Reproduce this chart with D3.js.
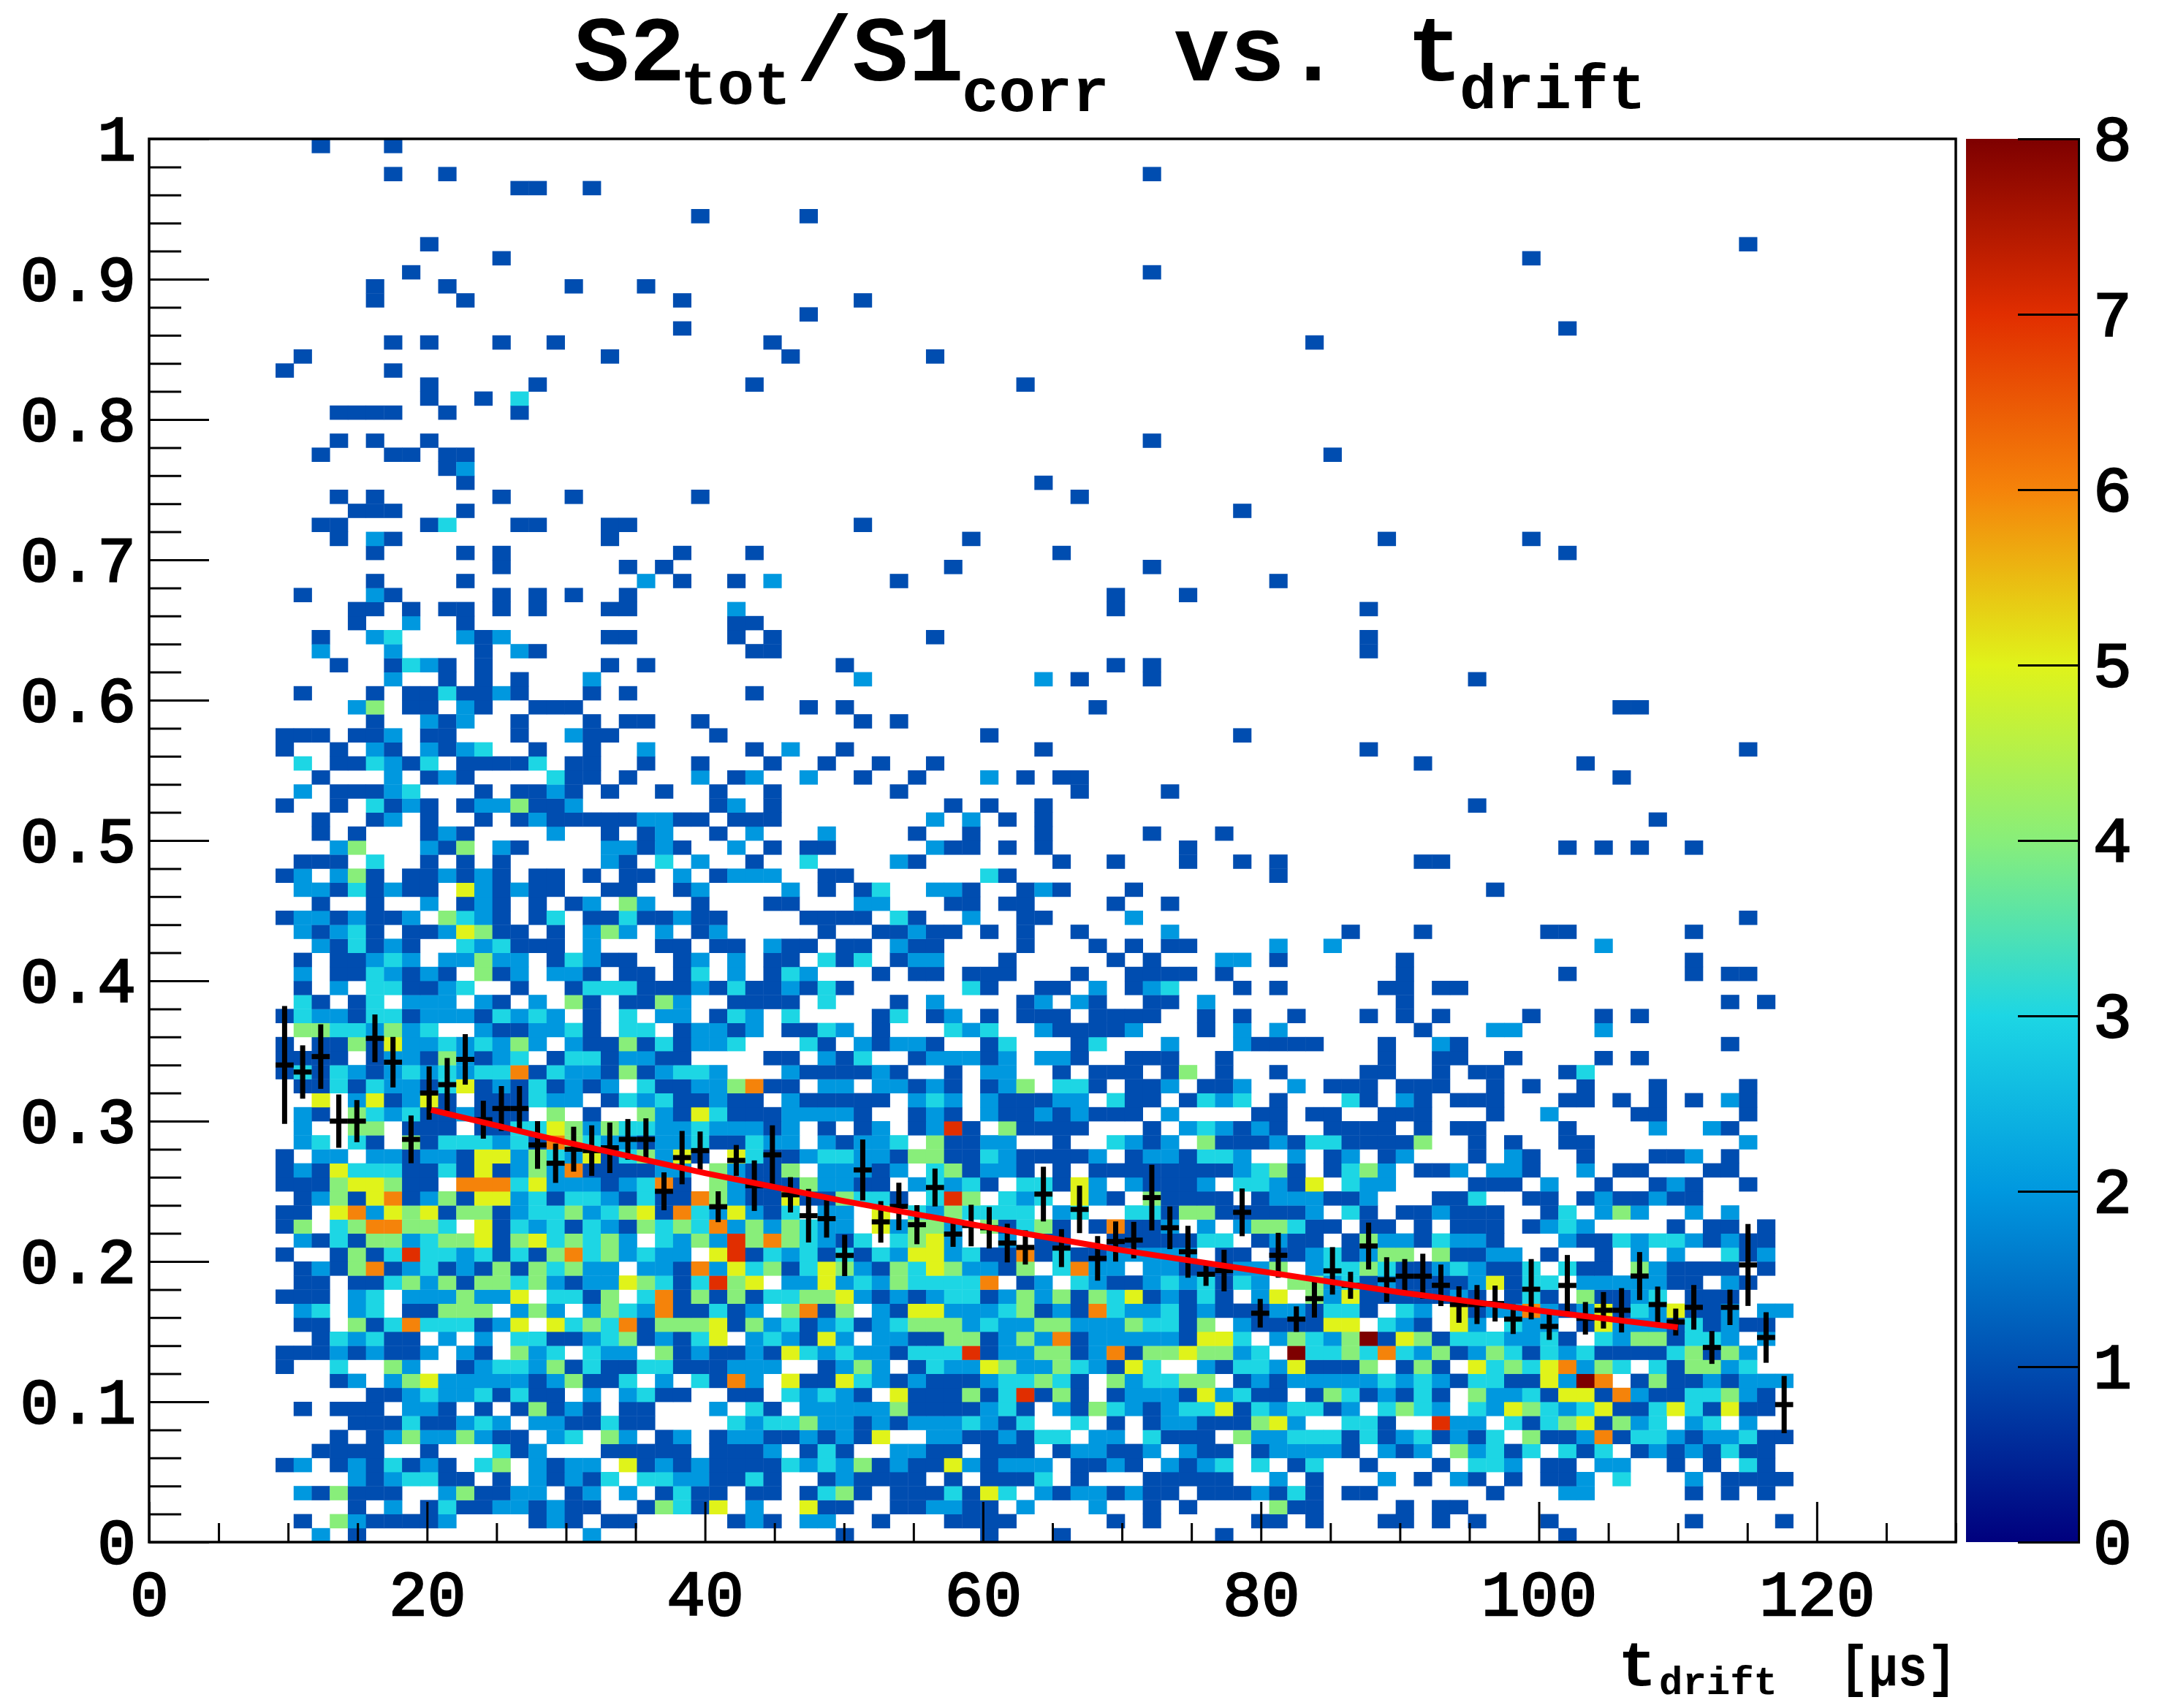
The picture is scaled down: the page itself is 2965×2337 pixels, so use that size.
<!DOCTYPE html>
<html>
<head>
<meta charset="utf-8">
<script src="https://cdnjs.cloudflare.com/ajax/libs/d3/7.8.5/d3.min.js"></script>
<style>
  html, body { margin: 0; background: #fff; }
  text { font-family: "Liberation Mono", monospace; font-weight: bold; fill: #000; }
</style>
</head>
<body>
<svg width="2965" height="2337"></svg>
<script>
// counts per bin. index in list = y bin, "." = empty bin
// blocks start at x bins 7, 35 and 62, spaces are only there for reading
var leftStart = 7, midStart = 35, rightStart = 62;

var leftRows = [
"..2.1............2",
".1.4211112....121.11.....121",
"....1.2.1311221211..14315.2",
".214111..241122.12.2.1311.11",
"....2123311.1.21213.33221131",
"12.1213121.34.2122.512121111",
"..1111..1...312...11111.1112",
"...1.124224211.23.42.12.1221",
"....111311232.2211311....323",
".1.111.221.1.14121.11...2.31",
".....11232231311.2.2311..11",
"...12.24522222124113.2.3162",
"1..3..42..123324131133111222",
"111212112.21.423.322.4121121",
"..132311.2.2.331123412135.23",
".11.4136333125.5343614445142",
".23.23.11444.242.2432611312",
"111.23.2224225.3314.36141413",
".11.11342414434212254313745",
".121461231214143422.22162534",
"1..14137332313146342322.5713",
".2131442344514534342.3242746",
"14.3466443.51323132143436242",
"11.5625451441233423451632521",
".124156124155231332131164211",
"111455411.6663522212361.4211",
"12153331131512426111122.4211",
"1.22.22122 1552432513 4251.531",
".23.31.413 3323164322 12231132",
".2..44.111 .113354243 32232221",
".21.432311 2111.4.1.. 42153111",
"..5.251251 .111322.13 2311211",
".113132213 512131212. 31122461",
"1313212323 2336132214 12332",
"1111.12214 2123.13312 211....1",
"1.11415223 23242.2114 131223",
".44332423. .2112231.3 3.12212",
"1322133122 213232.1.3 .22.132",
".31.13.222 .21.2.41.1 142..111",
".1.2.33112 3..1..1333 11121311",
".2.1132121 .412.221.1 1.13.2.1",
".1.11232.2 2422.13211 ..12.2.1",
"..213121.. 323111.2.. .11.11.2",
".21231.112 5411.1.242 .2.12",
"12212112.4 321.13.113 11211",
"..1..1..2. 121.1.12.4 2..1...1",
".22131211. 521211..11 ..12",
"12.241.112 121.11.1.1 1.2.1222",
".111.3..1. 1.1.....21 .3.2..1.",
"...24...21 4.21....22 121..2.1",
"..1.1...12 1....2..1. 12..1.2",
"..1..12.1. .1.1211111 2211.111",
"1..1.3121. 1224112... ....12.1",
".2.11123.. .1.1121.1. .1..1..1",
"..1...2.12 1....311.1 ...2.12",
".3.113213. 11113.11.. 1..1...1",
"1..1.21.21 23..1..1.. 2.....1",
"111.112.11 ...1..211. ....1",
".....1..21 2..1...1.1 1..1",
"....24.11. 21..111...",
".1...1.113 1121...1.1 ......1",
"......2..1 .1.1...2..",
"...1..1321 .1......1. 1",
"..2...2... .1.21..... ......11",
"..1..23... 212.....11 .....1.1",
"....1..2.. 1......... .....11",
"....11.1.1 1.1.1...11 .....2"
];

var midRows = [
"...1.......1...1........1",
".22..1...1111.....1.1.....1",
".511..112211.2...2..1.1",
".1341.1113153.21221211.1112",
"..121111.1.1113.1...11111",
"3232412115 21222.1121 .2123.3",
".131..2211 .111.12211 2.211.1",
"121215..22 112133.22. 3111.42",
"3422121222 3213..3.1. 1221114",
".222224111 1231.21432 1233513",
"32321.5111 4137141.12 2215231",
"5115321211 1233431.42 3344.12",
"..1242.132 2542243215 3..2133",
"5323221333 7122441261 4454423",
"2152.22114 4124261222 221553.",
"3123123444 2322442224 3314.21",
"4614.21552 2234121632 2312111",
"3445212123 3124241435 12131.2",
"2252324333 36.12.3211 2323132",
"1354214354 2214.3622. 2211122",
"2313132552 3116131122 222.11",
"43213.3452 ..2.11..11 11133.1",
"4322.52442 .41341.161 12.2.24",
"3.22.5.324 3333.23..3 3144111",
"5114331.37 4.323.521. 41111.1",
"142211.232 31.33152.2 1112.33",
"4.22212.34 1221.1.111 1111123",
"1233221441 13211112.1 221332",
"2.21223.41 122..1..32 12.4111",
"2.1.12.127 1.41111... 1.23212",
"22221..121 .211212111 .2....1",
"211111.232 .211122.31 1.1323",
"1.22.22121 .124.331.1 12.112",
"2111121..1 .22..1.111 .14.1",
"1.213..122 212.221..1 11..1",
".31.21221. .13...13.. .2...21",
"1132.1...3 23..211112 ...1.2",
"3....13.12 .1.111.111 1..1.1",
"1.3...1.2. ...12.21.. 11.2",
"2131...... 31..11.2.1 23...1",
"32...1.11. 111...1..1 111.1",
"1.313.122. ..1.....1. 1...22"
];

var rightRows = [
"................1",
"1.1...11.1.1...1.......1....1",
"411....1.11",
"131.11......1...22.....1.1.1",
"2.1...2.1.21.1.112.3...2.1111",
".13..1...1.332.11.22..1.1.31",
"2222 1.212 .4231 3.313 .1212 1311",
"2333 13123 1213. 41126 13321 22311",
"52.. 331.. 722.3 13451 423.2 3.2",
"2331 2.343 2.325 43235 11353 1511",
"1.14 31213 1.422 31551 62113 3421",
"1222 22323 21331 15286 .1411 21222",
"2511 14.14 1.534 35624 3.314 423",
".833 43632 41243 13231 11134 142",
"2432 48154 13332 231.3 24413 32.2",
"1115 5.321 .52.3 22.15 22213 1211",
"2213 31.32 .5122 62125 13251 12.22",
"5.42 51111 121.1 31.41 123.1 11",
".442 31211 11251 33.22 22211 .21",
"4.23 34311 23211 3.311 .4211 11.1",
"1123 1244. 41122 .1..1 .2.2. .312",
"211. 14221 3221. ..211 32332 1211",
"4311 .11.1 .111. 1232. ...1. 11.1",
"112. 31.11 2111. .13.2 42..2 .2",
"2221 12... 113.. 11.12 11211",
"215. 322.. ..111 .2..1 ..121 ..1",
"41.1 342.1 12.22 1..2. 11... 11",
".2.1 2.12. ..1.2 1..1. ..112 .1",
"2133 11114 ..1.1 ..11. ..... ..2",
"1..1 111.1 .11.. ..1.. ..2.. 21",
"1.11 ..111 ...1. .2... .11.. ..1",
"1... 31.21 .111. ..11. 1.1.1 .21",
".2.1 11.11 1..1. 1..1. ..1.. ..1",
"1... .11.. 1.11. ..13.",
".... ..1.. 11..1 ....1 .1",
"111. ..1.. 21... ..... ..... .1",
"2... ....1 ...22 ....2",
".1.. .1.1. 1.... 1...1 .1",
".... ...1. ..... ..... ..... .1.1",
"1... ..11. 11",
".... ...1. ..... ..1.. ....1 .11",
"1... ...1. ..... ..... ....1"
];

// sparser part, "ybin: xbin xbin:count ..."
var sparseRows = [
"42: 35 36 38 39 41:2 42 43 48 52 54 56 57 62:2 65:2 80:2",
"43: 37 40 41 42:2 43 44 46 48 51 56:2 66 70 77 78 85",
"44: 36 37 38 39 41:3 42 45:2 48 49 54:2 88",
"45: 35 39:2 40:2 44 45 47 48 53 56",
"46: 35:2 37 39 40:3 43:2 44:2 45 48 49:2 50 54 74",
"47: 37 38 46:3 47 62",
"48: 36:3 41:2 42 50 53 57 60 62 70 71",
"49: 36 37 43:2 44 45 47 49 57 78 80 82 85",
"50: 37:2 42 45 49 55 59",
"51: 43:2 45:2 47 49 83",
"52: 44 46 49 73",
"53: 41 51 56",
"54: 36:2 39 42 46:2 48 50 51 81",
"55: 37 40 43 70 79",
"56: 35:2 38 49 67 88",
"57: 46 60",
"58: 39 41",
"59: 36 38 52 81 82",
"61: 39:2 49:2 51 55 73",
"62: 38 53 55",
"63: 67",
"64: 43 67",
"66: 53 67",
"67: 8 12:2 13 19 21 23 26 53 57",
"68: 12 17 27:2 29 32 34:2 41 62",
"69: 19 26 28 44 55",
"70: 12 17 19 29 33 50 78",
"71: 10 12:2 13 25 45 68 76",
"72: 9 10 15 16:3 20 21 25 26 39",
"73: 11 12 13 17 60",
"74: 10 12 19 23 30 51",
"75: 17 49",
"76: 16 17:2",
"77: 9 13 14 16 17 65",
"78: 10 12 15 55",
"80: 10 11 12 13 16 20",
"81: 15 18 20:3",
"82: 15 21 33 48",
"83: 7 13",
"84: 8 25 35 43",
"85: 13 15 19 22 34 64",
"86: 29 78",
"87: 36",
"88: 12 17 29 39",
"89: 12 16 23 27",
"90: 14 55",
"91: 19 76",
"92: 15 88",
"94: 30 36",
"96: 20 21 24",
"97: 13 16 55",
"99: 9 13"
];

// profile points, one per x bin starting at bin 7
var profileY = [.340,.335,.346,.300,.300,.359,.342,.287,.320,.326,.344,.301,.309,.309,.283,.270,.280,.279,.281,.287,.287,.250,.274,.279,.239,.272,.254,.276,
  .2475,.2326,.2305,.2043,.2652,.2282,.2392,.2262,.2527,.2195,.2256,.224,.2131,.21,.248,.2095,.2371,.2022,.2142,.2152,.2455,.224,.2069,.1909,.1935,.235,.1631,
  .2044,.1589,.1735,.1933,.183,.211,.187,.1895,.1895,.183,.1693,.1693,.17,.1589,.1802,.1537,.1829,.1595,.1652,.1652,.1896,.1693,.1568,.1673,.1387,.1673,.1975,.1458,.098];
var profileErr = [.042,.019,.023,.019,.015,.017,.018,.017,.019,.019,.018,.0135,.016,.016,.017,.014,.016,.018,.018,.0145,.015,.0135,.019,.0136,.011,.011,.018,.021,
  .0126,.0191,.0135,.0147,.0217,.0148,.0169,.0139,.0135,.0091,.0148,.0148,.0138,.0122,.0195,.0135,.0169,.0159,.0143,.013,.0234,.0152,.0185,.0083,.0148,.017,.0102,
  .016,.0091,.0135,.0169,.0096,.0167,.016,.0122,.016,.0148,.013,.0139,.0128,.0106,.0215,.0096,.0217,.0116,.013,.0158,.0171,.0128,.0096,.0159,.0117,.0126,.0292,.018,.0204];

// fit line
var fitX = [20.3, 30, 40, 50, 60, 70, 80, 90, 100, 110];
var fitY = [.308, .285, .263, .243, .225, .208, .193, .178, .165, .153];

var xTicks = [0, 20, 40, 60, 80, 100, 120];
var yTicks = [0, .1, .2, .3, .4, .5, .6, .7, .8, .9, 1];
var zTicks = [0, 1, 2, 3, 4, 5, 6, 7, 8];
var zColors = ["#00007e", "#004db0", "#0098df", "#1dd6e4", "#88ee7a", "#e0f31a", "#f5830a", "#e12e00", "#7e0000"];

var binW = 1.3, binH = 0.01;

var svg = d3.select("svg"),
    margin = { top: 190, left: 204, right: 2676, bottom: 2110 };

var x = d3.scaleLinear().domain([0, 130]).range([margin.left, margin.right]);
var y = d3.scaleLinear().domain([0, 1]).range([margin.bottom, margin.top]);
var z = d3.scaleLinear().domain(zTicks).range(zColors);
var zBar = d3.scaleLinear().domain([0, 8]).range([margin.bottom, margin.top]);

// flatten all the rows into cells
var cells = [];
function addBlock(rows, start) {
    rows.forEach((row, r) => {
        row.replace(/ /g, "").split("").forEach((ch, i) => {
            if (ch != ".") cells.push({ xb: start + i, yb: r, n: +ch });
        });
    });
}
addBlock(leftRows, leftStart);
addBlock(midRows, midStart);
addBlock(rightRows, rightStart);
sparseRows.forEach(line => {
    var yb = +line.slice(0, line.indexOf(":"));
    line.slice(line.indexOf(":") + 1).trim().split(" ").forEach(t => {
        var p = t.split(":");
        cells.push({ xb: +p[0], yb: yb, n: p[1] ? +p[1] : 1 });
    });
});

svg.append("rect").attr("width", 2965).attr("height", 2337).attr("fill", "#fff");

svg.append("g").selectAll("rect")
    .data(cells)
    .join("rect")
    .attr("x", d => x(d.xb * binW))
    .attr("y", d => y((d.yb + 1) * binH))
    .attr("width", x(binW) - x(0) + 0.4)
    .attr("height", y(0) - y(binH) + 0.4)
    .attr("fill", d => z(d.n));

// axes
var xAxis = d3.axisBottom(x).tickValues(xTicks).tickSize(-55).tickPadding(38).tickFormat(d3.format("d"));
var xMinor = d3.axisBottom(x).tickValues(d3.range(0, 131, 5).filter(d => d % 20)).tickSize(-26).tickFormat("");
var yAxis = d3.axisLeft(y).tickValues(yTicks).tickSize(-82).tickPadding(18).tickFormat(d => d == 0 || d == 1 ? d : d3.format(".1f")(d));
var yMinor = d3.axisLeft(y).tickValues(d3.range(0, 100, 2).filter(d => d % 10).map(d => d / 100)).tickSize(-44).tickFormat("");

function styleAxis(g) {
    g.select(".domain").remove();
    g.selectAll("line").attr("stroke", "#000").attr("stroke-width", 3);
    g.selectAll("text").attr("font-size", 88).attr("font-family", null)
        .style("font-weight", "normal").attr("stroke", "#000").attr("stroke-width", 2.5);
}

svg.append("g").attr("transform", "translate(0," + margin.bottom + ")").call(xAxis).call(styleAxis);
svg.append("g").attr("transform", "translate(0," + margin.bottom + ")").call(xMinor).call(styleAxis);
svg.append("g").attr("transform", "translate(" + margin.left + ",0)").call(yAxis).call(styleAxis);
svg.append("g").attr("transform", "translate(" + margin.left + ",0)").call(yMinor).call(styleAxis);

svg.append("rect")
    .attr("x", margin.left).attr("y", margin.top)
    .attr("width", margin.right - margin.left).attr("height", margin.bottom - margin.top)
    .attr("fill", "none").attr("stroke", "#000").attr("stroke-width", 3.5);

// profile with error bars
var points = profileY.map((v, i) => ({ xb: leftStart + i, v: v, e: profileErr[i] }));
var prof = svg.append("g").attr("stroke", "#000").attr("stroke-width", 7);
prof.selectAll("line.v").data(points).join("line").attr("class", "v")
    .attr("x1", d => x((d.xb + .5) * binW)).attr("x2", d => x((d.xb + .5) * binW))
    .attr("y1", d => y(d.v - d.e)).attr("y2", d => y(d.v + d.e));
prof.selectAll("line.h").data(points).join("line").attr("class", "h")
    .attr("x1", d => x(d.xb * binW)).attr("x2", d => x((d.xb + 1) * binW))
    .attr("y1", d => y(d.v)).attr("y2", d => y(d.v));

var line = d3.line().x(d => x(d[0])).y(d => y(d[1]));
svg.append("path")
    .datum(d3.zip(fitX, fitY))
    .attr("fill", "none")
    .attr("stroke", "#ff0000")
    .attr("stroke-width", 8)
    .attr("d", line);

// palette bar
var grad = svg.append("defs").append("linearGradient").attr("id", "palette")
    .attr("x1", 0).attr("x2", 0).attr("y1", 1).attr("y2", 0);
zTicks.forEach(t => {
    grad.append("stop").attr("offset", t / 8).attr("stop-color", z(t));
});
svg.append("rect")
    .attr("x", 2690).attr("y", margin.top).attr("width", 154).attr("height", margin.bottom - margin.top)
    .attr("fill", "url(#palette)");
var zAxis = d3.axisRight(zBar).tickValues(zTicks).tickSize(-83).tickPadding(20).tickFormat(d3.format("d"));
svg.append("g").attr("transform", "translate(2844,0)").call(zAxis).call(g => {
    g.select(".domain").attr("stroke", "#000").attr("stroke-width", 3);
    g.selectAll("line").attr("stroke", "#000").attr("stroke-width", 3);
    g.selectAll("text").attr("font-size", 88).attr("font-family", null)
        .style("font-weight", "normal").attr("stroke", "#000").attr("stroke-width", 2.5);
});

// title and x label, pieces are placed one by one like the subscripts in the original
var titleBits = [
    { t: "S2", x: 785, y: 110, s: 127 },
    { t: "tot", x: 931, y: 142, s: 84 },
    { t: "/S1", x: 1090, y: 110, s: 127 },
    { t: "corr", x: 1316, y: 152, s: 84 },
    { t: "vs.", x: 1606, y: 110, s: 127 },
    { t: "t", x: 1925, y: 110, s: 127 },
    { t: "drift", x: 1997, y: 148, s: 85 },
    { t: "t", x: 2214, y: 2306, s: 88 },
    { t: "drift", x: 2270, y: 2318, s: 54 }
];
svg.append("g").selectAll("text").data(titleBits).join("text")
    .attr("x", d => d.x).attr("y", d => d.y).attr("font-size", d => d.s)
    .text(d => d.t);

svg.append("text").attr("x", 2517).attr("y", 2306).attr("font-size", 78)
    .attr("textLength", 160).attr("lengthAdjust", "spacingAndGlyphs")
    .text("[\u00b5s]");
</script>
</body>
</html>
